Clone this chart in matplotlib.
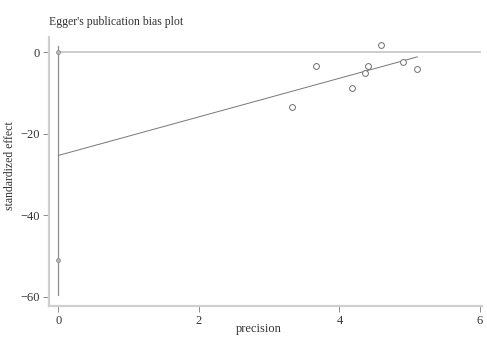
import matplotlib.pyplot as plt
import numpy as np

plt.rcParams['font.family'] = ['Liberation Serif', 'DejaVu Serif']

# studi: precisione e effetto standardizzato
precision = [3.67, 3.33, 4.59, 4.40, 4.37, 4.18, 4.91, 5.11]
std_effect = [-3.3, -13.3, 1.9, -3.4, -5.1, -8.7, -2.4, -4.1]

# retta di regressione di Egger
intercept = -25.3
slope = 4.74

# intervallo sull'asse x = 0
ci_low, ci_high = -59.7, 1.7
ci_marks = [0.0, -51.0]

grey = '#8c8c8c'

fig = plt.figure(figsize=(4.87, 3.38), dpi=100)
ax = fig.add_axes([49 / 487, 32 / 338, 433 / 487, 269 / 338])

ax.plot([0, 6], [0, 0], color='#c8c8c8', lw=1.3, zorder=1)
ax.plot([0, 0], [ci_low, ci_high], color=grey, lw=0.9, zorder=2)
ax.plot([0, 0], ci_marks, ls='none', marker='o', ms=2.8, mfc='#bbbbbb', mec=grey, mew=0.6)

xx = np.array([0, max(precision)])
ax.plot(xx, intercept + slope * xx, color='#777777', lw=0.7, zorder=2)

ax.plot(precision, std_effect, ls='none', marker='o', ms=4.2, mfc='white', mec='#6e6e6e', mew=0.7, zorder=3)

ax.set_xlim(-0.135, 6.03)
ax.set_ylim(-62.3, 3.8)
ax.set_xticks([0, 2, 4, 6])
ax.set_yticks([0, -20, -40, -60])

for s in ['top', 'right']:
    ax.spines[s].set_visible(False)
for s in ['left', 'bottom']:
    ax.spines[s].set_color('#cfcfcf')
    ax.spines[s].set_linewidth(1.6)

ax.tick_params(length=4, width=0.7, color=grey, labelsize=9, labelcolor='#333333', pad=2.5)

ax.set_xlabel('precision', fontsize=9, color='#333333', va='center')
ax.xaxis.set_label_coords(0.485, -0.085)
ax.set_ylabel('standardized effect', fontsize=8.5, color='#333333', va='center')
ax.yaxis.set_label_coords(-0.09, 0.52)
fig.text(49 / 487, 1 - 22 / 338, "Egger's publication bias plot", fontsize=8.5, color='#333333', va='center')

fig.savefig('out.png', dpi=100, facecolor='white')
